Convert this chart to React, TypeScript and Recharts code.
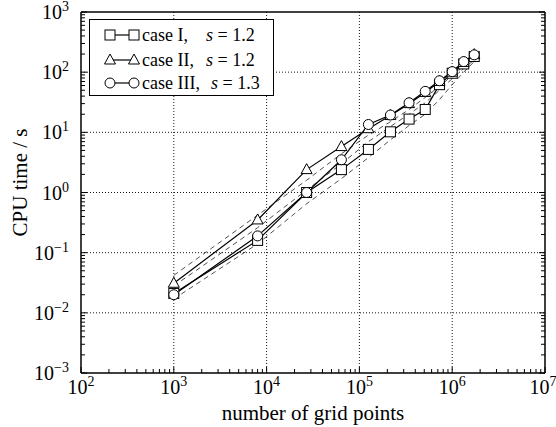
import React from 'react';
import { LineChart, Line, XAxis, YAxis, ReferenceLine, Label } from 'recharts';

// grid sizes are cubes 10^3 ... 120^3
const GRID_POINTS = [1000, 8000, 27000, 64000, 125000, 216000, 343000, 512000, 729000, 1000000, 1331000, 1728000];
const CASE_I = [0.021, 0.16, 1.0, 2.4, 5.2, 10.2, 16.6, 24, 62, 96, 137, 182];
const CASE_II = [0.031, 0.35, 2.4, 5.8, 11.5, 19, 30, 46, 70, 100, 145, 196];
const CASE_III = [0.02, 0.19, 1.0, 3.5, 13.5, 19.4, 31, 48, 72, 102, 150, 194];
// dashed companion curves
const DASH_A = [0.042, 0.42, 1.6, 4.4, 9, 15, 24, 38, 58, 88, 125, 170];
const DASH_B = [0.028, 0.26, 1.1, 3.0, 7, 12.5, 20, 31, 50, 78, 115, 160];
const DASH_C = [0.017, 0.14, 0.65, 1.7, 3.8, 7.5, 13, 20, 35, 62, 100, 150];

const LEGEND_LABELS = ['case I,', 'case II,', 'case III,'];
const S_VALUES = ['1.2', '1.2', '1.3'];
const MARKERS = ['square', 'triangle', 'circle'];

const X_DECADES = [2, 3, 4, 5, 6, 7];
const Y_DECADES = [-3, -2, -1, 0, 1, 2, 3];

const FONT = '"Liberation Serif", "Times New Roman", serif';

const pow10 = (p: number) => Number(`1e${p}`);

function withMinors(decades: number[]) {
  const out: number[] = [];
  decades.forEach((p, i) => {
    out.push(pow10(p));
    if (i < decades.length - 1) {
      for (let m = 2; m <= 9; m++) out.push(Number(`${m}e${p}`));
    }
  });
  return out;
}

const xTicks = withMinors(X_DECADES);
const yTicks = withMinors(Y_DECADES);
const xGrid = X_DECADES.slice(1, -1).map(pow10);
const yGrid = Y_DECADES.slice(1, -1).map(pow10);

const exponentOf = (v: number) => {
  const l = Math.log10(v);
  const r = Math.round(l);
  return Math.abs(l - r) < 1e-6 ? r : null;
};
const fmtExp = (p: number) => (p < 0 ? `\u2212${-p}` : `${p}`);

const data = GRID_POINTS.map((n, i) => ({
  n,
  c1: CASE_I[i],
  c2: CASE_II[i],
  c3: CASE_III[i],
  dA: DASH_A[i],
  dB: DASH_B[i],
  dC: DASH_C[i],
}));

const MAJOR = 6;
const MINOR = 4;
const WIDTH = 556;

function Marker({ kind, cx, cy }: { kind: string; cx: number; cy: number }) {
  if (kind === 'square') {
    return <rect x={cx - 5} y={cy - 5} width={10} height={10} fill="#fff" stroke="#000" strokeWidth={1} />;
  }
  if (kind === 'triangle') {
    return (
      <polygon
        points={`${cx},${cy - 6} ${cx - 5.5},${cy + 4} ${cx + 5.5},${cy + 4}`}
        fill="#fff"
        stroke="#000"
        strokeWidth={1}
      />
    );
  }
  return <circle cx={cx} cy={cy} r={5} fill="#fff" stroke="#000" strokeWidth={1} />;
}

const makeDot = (kind: string) => (props: any) => (
  <Marker key={`${kind}-${props.index}`} kind={kind} cx={props.cx} cy={props.cy} />
);

function BottomTick({ x, y, payload }: any) {
  const p = exponentOf(payload.value);
  // keep the last label inside the page
  const lx = Math.min(x, WIDTH - 13);
  return (
    <g>
      <line x1={x} y1={y} x2={x} y2={y - (p === null ? MINOR : MAJOR)} stroke="#000" />
      {p !== null && (
        <text x={lx} y={y + 21} textAnchor="middle" fontFamily={FONT} fontSize={20} fill="#000">
          10<tspan dy={-8} fontSize={14}>{fmtExp(p)}</tspan>
        </text>
      )}
    </g>
  );
}

function TopTick({ x, y, payload }: any) {
  const p = exponentOf(payload.value);
  return <line x1={x} y1={y} x2={x} y2={y + (p === null ? MINOR : MAJOR)} stroke="#000" />;
}

function LeftTick({ x, y, payload }: any) {
  const p = exponentOf(payload.value);
  return (
    <g>
      <line x1={x} y1={y} x2={x + (p === null ? MINOR : MAJOR)} y2={y} stroke="#000" />
      {p !== null && (
        <text x={x - 12} y={y + 7} textAnchor="end" fontFamily={FONT} fontSize={20} fill="#000">
          10<tspan dy={-8} fontSize={14}>{fmtExp(p)}</tspan>
        </text>
      )}
    </g>
  );
}

function RightTick({ x, y, payload }: any) {
  const p = exponentOf(payload.value);
  return <line x1={x} y1={y} x2={x - (p === null ? MINOR : MAJOR)} y2={y} stroke="#000" />;
}

const axisLine = { stroke: '#000', strokeWidth: 1.5 };

export default function App() {
  return (
    <div style={{ position: 'absolute', left: 0, top: 0, width: WIDTH, height: 427, background: '#fff' }}>
      <LineChart width={WIDTH} height={427} data={data} margin={{ top: 0, right: 0, bottom: 0, left: 0 }}>
        <XAxis
          xAxisId="x"
          dataKey="n"
          type="number"
          scale="log"
          domain={[100, 1e7]}
          allowDataOverflow
          ticks={xTicks}
          interval={0}
          height={54}
          tickSize={0}
          tickMargin={0}
          tickLine={false}
          tick={<BottomTick />}
          axisLine={axisLine}
        >
          <Label
            content={({ viewBox }: any) => (
              <text
                x={viewBox.x + viewBox.width / 2}
                y={viewBox.y + 47}
                textAnchor="middle"
                fontFamily={FONT}
                fontSize={21}
                fill="#000"
              >
                number of grid points
              </text>
            )}
          />
        </XAxis>
        <XAxis
          xAxisId="top"
          orientation="top"
          type="number"
          scale="log"
          domain={[100, 1e7]}
          allowDataOverflow
          ticks={xTicks}
          interval={0}
          height={12}
          tickSize={0}
          tickMargin={0}
          tickLine={false}
          tick={<TopTick />}
          axisLine={axisLine}
        />
        <YAxis
          yAxisId="y"
          type="number"
          scale="log"
          domain={[1e-3, 1e3]}
          allowDataOverflow
          ticks={yTicks}
          interval={0}
          width={81}
          tickSize={0}
          tickMargin={0}
          tickLine={false}
          tick={<LeftTick />}
          axisLine={axisLine}
        >
          <Label
            content={({ viewBox }: any) => (
              <text
                transform={`translate(20, ${viewBox.y + viewBox.height / 2 - 10}) rotate(-90)`}
                textAnchor="middle"
                dominantBaseline="central"
                fontFamily={FONT}
                fontSize={21}
                fill="#000"
              >
                CPU time / s
              </text>
            )}
          />
        </YAxis>
        <YAxis
          yAxisId="right"
          orientation="right"
          type="number"
          scale="log"
          domain={[1e-3, 1e3]}
          allowDataOverflow
          ticks={yTicks}
          interval={0}
          width={11}
          tickSize={0}
          tickMargin={0}
          tickLine={false}
          tick={<RightTick />}
          axisLine={axisLine}
        />

        {xGrid.map((v) => (
          <ReferenceLine key={`gx${v}`} x={v} xAxisId="x" yAxisId="y" stroke="#000" strokeWidth={0.9} strokeDasharray="1 2" />
        ))}
        {yGrid.map((v) => (
          <ReferenceLine key={`gy${v}`} y={v} xAxisId="x" yAxisId="y" stroke="#000" strokeWidth={0.9} strokeDasharray="1 2" />
        ))}

        <Line xAxisId="x" yAxisId="y" dataKey="dA" stroke="#222" strokeWidth={0.8} strokeDasharray="5 4" dot={false} isAnimationActive={false} />
        <Line xAxisId="x" yAxisId="y" dataKey="dB" stroke="#222" strokeWidth={0.8} strokeDasharray="5 4" dot={false} isAnimationActive={false} />
        <Line xAxisId="x" yAxisId="y" dataKey="dC" stroke="#222" strokeWidth={0.8} strokeDasharray="5 4" dot={false} isAnimationActive={false} />

        <Line xAxisId="x" yAxisId="y" dataKey="c1" stroke="#000" strokeWidth={1.2} dot={makeDot('square')} isAnimationActive={false} />
        <Line xAxisId="x" yAxisId="y" dataKey="c2" stroke="#000" strokeWidth={1.2} dot={makeDot('triangle')} isAnimationActive={false} />
        <Line xAxisId="x" yAxisId="y" dataKey="c3" stroke="#000" strokeWidth={1.2} dot={makeDot('circle')} isAnimationActive={false} />
      </LineChart>

      <div
        style={{
          position: 'absolute',
          left: 89,
          top: 19,
          width: 183,
          height: 75,
          border: '1.5px solid #000',
          background: '#fff',
          fontFamily: FONT,
          fontSize: 18,
          color: '#000',
        }}
      >
        {LEGEND_LABELS.map((label, i) => (
          <div key={label} style={{ position: 'absolute', left: 0, top: [4, 29, 52][i], height: 22, width: '100%' }}>
            <svg width={40} height={22} style={{ position: 'absolute', left: 13, top: 0 }}>
              <line x1={7} y1={11} x2={31} y2={11} stroke="#000" strokeWidth={1.2} />
              <Marker kind={MARKERS[i]} cx={7} cy={11} />
              <Marker kind={MARKERS[i]} cx={31} cy={11} />
            </svg>
            <span style={{ position: 'absolute', left: 52, top: 0, lineHeight: '22px', whiteSpace: 'nowrap' }}>
              <span style={{ display: 'inline-block', width: i === 2 ? 69 : 64 }}>{label}</span>
              <i>s</i> = {S_VALUES[i]}
            </span>
          </div>
        ))}
      </div>
    </div>
  );
}
